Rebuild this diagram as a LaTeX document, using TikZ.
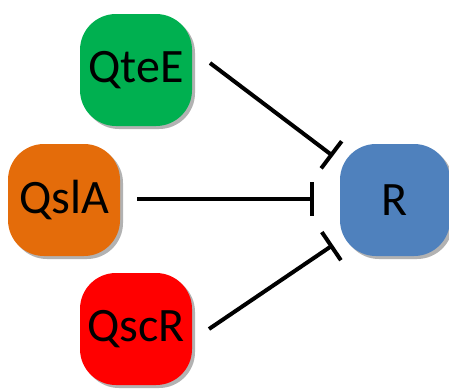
\documentclass[tikz,border=0pt]{standalone}
\usepackage{fontspec}
\setmainfont{Carlito}
\usetikzlibrary{arrows.meta,shadows,calc}
\definecolor{cgreen}{RGB}{0,176,80}
\definecolor{corange}{RGB}{228,108,10}
\definecolor{cred}{RGB}{255,0,0}
\definecolor{cblue}{RGB}{79,129,189}
\tikzset{
  gene/.style={rounded corners=36pt, minimum width=112pt, minimum height=112pt,
    inner sep=0pt, font=\fontsize{48}{52}\selectfont,
    drop shadow={shadow xshift=3pt, shadow yshift=-3pt, opacity=0.3, fill=black}},
  inhib/.style={line width=4pt, -{Bar[width=34pt,line width=4pt]}}
}
\begin{document}
\begin{tikzpicture}[x=1pt,y=-1pt]
\useasboundingbox (0,0) rectangle (449,388);
\node[gene, fill=cgreen] (qtee) at (136,70) {QteE};
\node[gene, fill=corange] (qsla) at (64,200) {QslA};
\node[gene, fill=cred] (qscr) at (136,329) {QscR};
\node[gene, fill=cblue, minimum width=110pt] (r) at (395,200) {R};
\coordinate (s1) at (210,63);
\coordinate (e1) at (333,156);
\coordinate (s2) at (137,199);
\coordinate (e2) at (314,199);
\coordinate (s3) at (209,329);
\coordinate (e3) at (333,245);
\draw[inhib] (s1) -- (e1);
\draw[inhib] (s2) -- (e2);
\draw[inhib] (s3) -- (e3);
\end{tikzpicture}
\end{document}
